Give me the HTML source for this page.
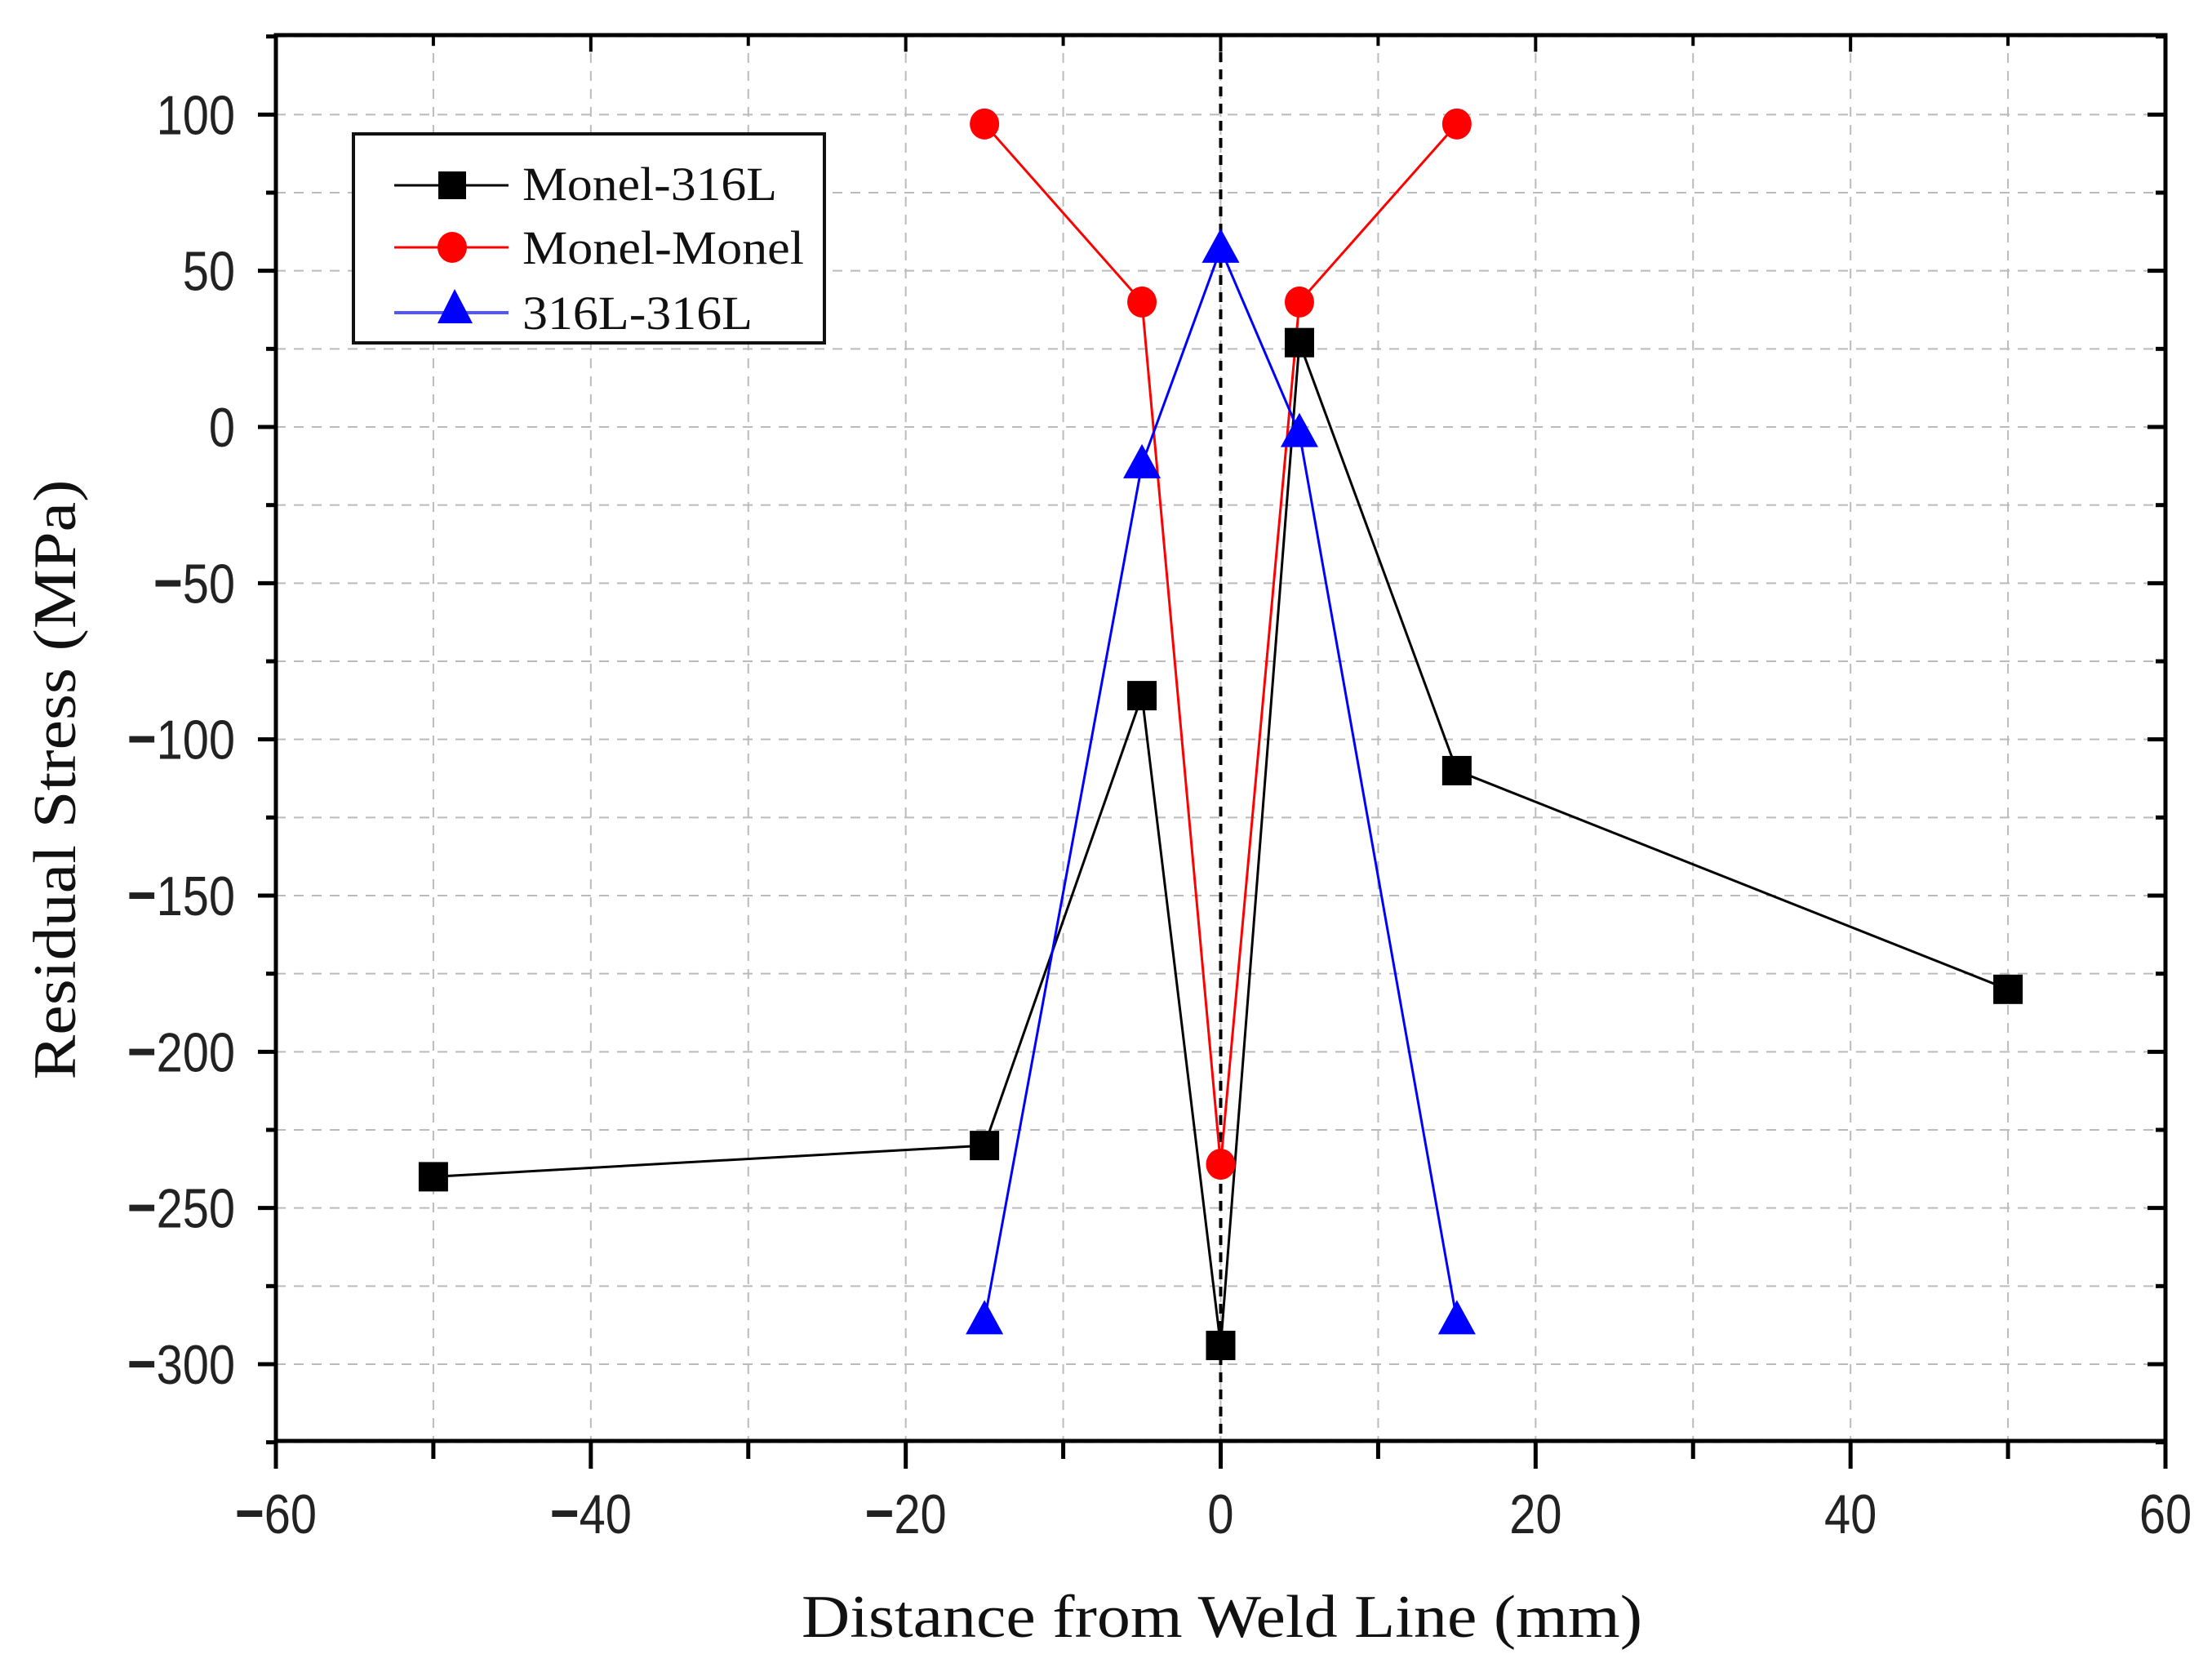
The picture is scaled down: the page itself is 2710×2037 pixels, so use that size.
<!DOCTYPE html>
<html><head><meta charset="utf-8"><style>
html,body{margin:0;padding:0;background:#fff}
svg{display:block}
text{font-family:"Liberation Sans",sans-serif}
.serif{font-family:"Liberation Serif",serif}
</style></head><body>
<svg id="chart" width="2710" height="2037" viewBox="0 0 2710 2037" xmlns="http://www.w3.org/2000/svg">
<g id="grid"></g>
<g id="axes"></g>
<g id="series"></g>
<text class="serif" transform="translate(92,955) rotate(-90)" text-anchor="middle" font-size="74" fill="#111" textLength="735" lengthAdjust="spacingAndGlyphs">Residual Stress (MPa)</text>
<text class="serif" x="1497" y="2005" text-anchor="middle" font-size="74" fill="#111" textLength="1030" lengthAdjust="spacingAndGlyphs">Distance from Weld Line (mm)</text>
<g>
<rect x="433" y="164" width="577" height="256" fill="#fff" stroke="#111" stroke-width="4"/>
<line x1="483" y1="227" x2="623" y2="227" stroke="#000" stroke-width="3"/>
<rect x="537" y="210" width="34" height="34" fill="#000"/>
<text class="serif" x="640" y="245" font-size="58" fill="#111" textLength="312" lengthAdjust="spacingAndGlyphs">Monel-316L</text>
<line x1="483" y1="303" x2="623" y2="303" stroke="#f00" stroke-width="3"/>
<ellipse cx="554" cy="303" rx="18" ry="19" fill="#f00"/>
<text class="serif" x="640" y="323" font-size="58" fill="#111" textLength="345" lengthAdjust="spacingAndGlyphs">Monel-Monel</text>
<line x1="483" y1="383" x2="623" y2="383" stroke="#55f" stroke-width="4"/>
<polygon points="557,354 536,396 579,396" fill="#00f"/>
<text class="serif" x="640" y="403" font-size="58" fill="#111" textLength="282" lengthAdjust="spacingAndGlyphs">316L-316L</text>
</g>
</svg>
<script>
const xTicks=[-60,-40,-20,0,20,40,60];
const yTicks=[100,50,0,-50,-100,-150,-200,-250,-300];
const xA=[-50,-15,-5,0,5,15,50];
const yA=[-240,-230,-86,-294,27,-110,-180];
const xB=[-15,-5,0,5,15];
const yB=[97,40,-236,40,97];
const xC=[-15,-5,0,5,15];
const yC=[-286,-12,57,-2,-286];

const L=338,R=2653,T=43,B=1765;
const X=v=>L+(v+60)/120*(R-L);
const Y=v=>523-v*(1671-523)/300;
const NS="http://www.w3.org/2000/svg";
function mk(tag,parent,attrs){const e=document.createElementNS(NS,tag);for(const k in attrs)e.setAttribute(k,attrs[k]);parent.appendChild(e);return e;}
const grid=document.getElementById('grid'),axes=document.getElementById('axes'),ser=document.getElementById('series');
for(let v=-50;v<60;v+=10){const g=mk('line',grid,{x1:X(v),x2:X(v),y1:T,y2:B,stroke:'#bbb','stroke-width':2,'stroke-dasharray':'12,10'});

}
for(let v=-325;v<=125;v+=25){const g=mk('line',grid,{x1:L,x2:R,y1:Y(v),y2:Y(v),stroke:'#bbb','stroke-width':2,'stroke-dasharray':'12,10'});

}
const zl=mk('line',grid,{x1:X(0),x2:X(0),y1:T,y2:B,stroke:'#000','stroke-width':4,'stroke-dasharray':'12,9'});


const frame=mk('rect',axes,{x:L,y:T,width:R-L,height:B-T,fill:'none',stroke:'#000','stroke-width':5});


for(let v=-60;v<=60;v+=10){const maj=v%20===0;const len=maj?34:22;
mk('line',axes,{x1:X(v),x2:X(v),y1:B,y2:B+len,stroke:'#000','stroke-width':5});
mk('line',axes,{x1:X(v),x2:X(v),y1:T,y2:T+len*0.6,stroke:'#000','stroke-width':4});}
for(let v=-325;v<=125;v+=25){const maj=v%50===0;const len=maj?22:12;
mk('line',axes,{x1:L-len,x2:L,y1:Y(v),y2:Y(v),stroke:'#000','stroke-width':5});
mk('line',axes,{x1:R,x2:R-len,y1:Y(v),y2:Y(v),stroke:'#000','stroke-width':5});}
function lab(t,v){if(v<0){const s=document.createElementNS(NS,'tspan');s.setAttribute('font-weight','bold');s.setAttribute('font-size','72');s.textContent='\u2212';t.appendChild(s);}
const s2=document.createElementNS(NS,'tspan');s2.textContent=String(Math.abs(v));t.appendChild(s2);}
xTicks.forEach(v=>{const t=mk('text',axes,{transform:`translate(${X(v)},1878) scale(0.85,1)`,'text-anchor':'middle','font-size':68,fill:'#222'});
lab(t,v);

});
yTicks.forEach(v=>{const t=mk('text',axes,{transform:`translate(288,${Y(v)+24}) scale(0.85,1)`,'text-anchor':'end','font-size':68,fill:'#222'});
lab(t,v);

});
function line(xs,ys,col,w,name){const p=mk('polyline',ser,{points:xs.map((x,i)=>X(x)+','+Y(ys[i])).join(' '),fill:'none',stroke:col,'stroke-width':w});

}
line(xA,yA,'#000',3,'line-monel-316l');
line(xB,yB,'#f00',3,'line-monel-monel');
line(xC,yC,'#00f',3,'line-316l-316l');
xA.forEach((x,i)=>{const m=mk('rect',ser,{x:X(x)-18,y:Y(yA[i])-18,width:36,height:36,fill:'#000'});

});
xB.forEach((x,i)=>{const m=mk('ellipse',ser,{cx:X(x),cy:Y(yB[i]),rx:18,ry:19,fill:'#f00'});

});
xC.forEach((x,i)=>{const cx=X(x),cy=Y(yC[i]);const m=mk('polygon',ser,{points:`${cx},${cy-25} ${cx-23},${cy+17} ${cx+23},${cy+17}`,fill:'#00f'});

});
</script>
</body></html>
